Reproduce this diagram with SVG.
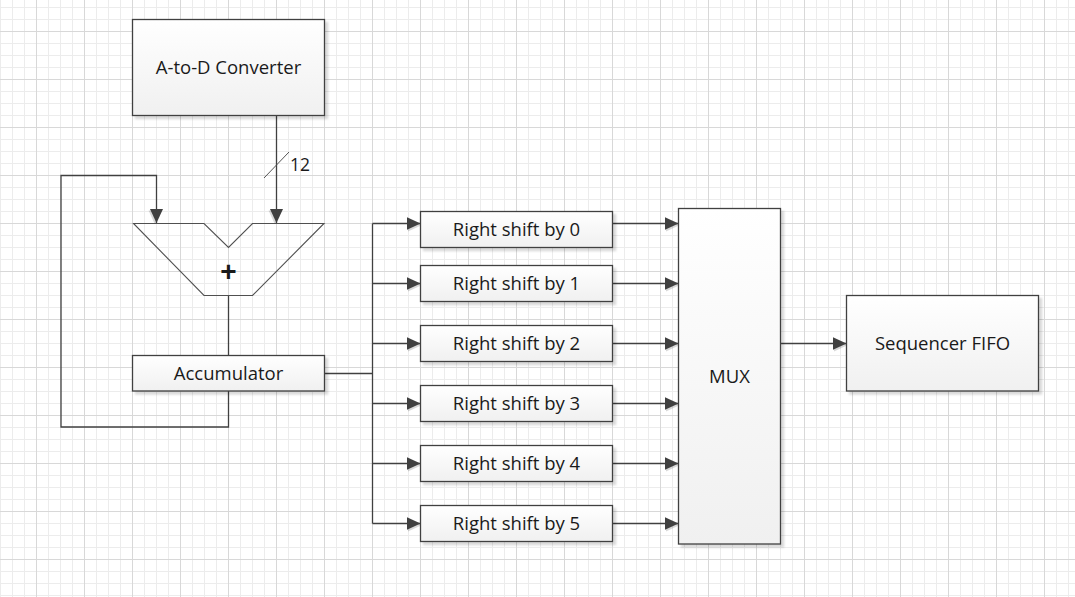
<svg xmlns="http://www.w3.org/2000/svg" width="1075" height="597" viewBox="0 0 1075 597">
  <defs>
    <pattern id="minor" patternUnits="userSpaceOnUse" x="0" y="7" width="12" height="12">
      <path d="M0.5,0 V12 M0,0.5 H12" stroke="#ececec" stroke-width="1" fill="none"/>
    </pattern>
    <pattern id="major" patternUnits="userSpaceOnUse" x="36" y="31" width="48" height="48">
      <path d="M0.5,0 V48 M0,0.5 H48" stroke="#d8d8d8" stroke-width="1" fill="none"/>
    </pattern>
    <linearGradient id="boxfill" x1="0" y1="0" x2="0" y2="1">
      <stop offset="0" stop-color="#ffffff"/>
      <stop offset="1" stop-color="#f0f0f0"/>
    </linearGradient>
    <filter id="shadow" x="-10%" y="-10%" width="130%" height="140%">
      <feDropShadow dx="3" dy="3" stdDeviation="1.2" flood-color="#000" flood-opacity="0.15"/>
    </filter>
    <marker id="arrow" markerUnits="userSpaceOnUse" markerWidth="16" markerHeight="16" refX="14" refY="6.5" orient="auto">
      <path d="M1.5,1.5 L15.5,8 L1.5,14.5 z" fill="#000" fill-opacity="0.15"/>
      <path d="M0,0 L14,6.5 L0,13 z" fill="#404040"/>
    </marker>
    <style>
      .box { fill: url(#boxfill); stroke: #404040; stroke-width: 1.3; filter: url(#shadow); }
      .lbl { font-family: "Open Sans", "Liberation Sans", sans-serif; font-size: 18.5px; fill: #1a1a1a; text-anchor: middle; }
      .wire { fill: none; stroke: #404040; stroke-width: 1.3; }
      .arr { fill: none; stroke: #404040; stroke-width: 1.3; marker-end: url(#arrow); }
    </style>
  </defs>

  <rect width="1075" height="597" fill="#ffffff"/>
  <rect width="1075" height="597" fill="url(#minor)"/>
  <rect width="1075" height="597" fill="url(#major)"/>

  <g id="connectors">
    <path class="arr" d="M276.5,115.5 V223"/>
    <path d="M264,178 L289,152" stroke="#555" stroke-width="1" fill="none"/>
    <path class="arr" d="M228.5,391 V427 H61 V175.5 H156.5 V223"/>
    <path class="wire" d="M228.5,295.5 V355.5"/>
    <path class="wire" d="M324.5,373.5 H372.5"/>
    <path class="wire" d="M372.5,223.5 V523.5"/>
    <path class="arr" d="M372.5,223.5 H420.5"/>
    <path class="arr" d="M372.5,283.5 H420.5"/>
    <path class="arr" d="M372.5,343.5 H420.5"/>
    <path class="arr" d="M372.5,403.5 H420.5"/>
    <path class="arr" d="M372.5,463.5 H420.5"/>
    <path class="arr" d="M372.5,523.5 H420.5"/>
    <path class="arr" d="M612.5,223.5 H678.5"/>
    <path class="arr" d="M612.5,283.5 H678.5"/>
    <path class="arr" d="M612.5,343.5 H678.5"/>
    <path class="arr" d="M612.5,403.5 H678.5"/>
    <path class="arr" d="M612.5,463.5 H678.5"/>
    <path class="arr" d="M612.5,523.5 H678.5"/>
    <path class="arr" d="M780.5,343.5 H846.5"/>
  </g>
  <text class="lbl" x="300" y="170.5" style="font-size:17.5px">12</text>

  <g id="adc">
    <rect class="box" x="132.5" y="19.5" width="192" height="96"/>
    <text class="lbl" x="228.5" y="74">A-to-D Converter</text>
  </g>

  <g id="adder">
    <polygon points="133.5,223.5 204,223.5 228.5,247.5 252.5,223.5 324,223.5 252.5,295.5 204,295.5" fill="none" stroke="#505050" stroke-width="1.1"/>
    <text x="228.5" y="281" font-family="Liberation Sans, Arial, sans-serif" font-size="28" font-weight="bold" fill="#1a1a1a" text-anchor="middle">+</text>
  </g>

  <g id="accumulator">
    <rect class="box" x="132.5" y="355.5" width="192" height="35.5"/>
    <text class="lbl" x="228.5" y="380">Accumulator</text>
  </g>

  <g id="shift0">
    <rect class="box" x="420.5" y="211.5" width="192" height="36"/>
    <text class="lbl" x="516.5" y="236">Right shift by 0</text>
  </g>
  <g id="shift1">
    <rect class="box" x="420.5" y="265.5" width="192" height="36"/>
    <text class="lbl" x="516.5" y="290">Right shift by 1</text>
  </g>
  <g id="shift2">
    <rect class="box" x="420.5" y="325.5" width="192" height="36"/>
    <text class="lbl" x="516.5" y="350">Right shift by 2</text>
  </g>
  <g id="shift3">
    <rect class="box" x="420.5" y="385.5" width="192" height="36"/>
    <text class="lbl" x="516.5" y="410">Right shift by 3</text>
  </g>
  <g id="shift4">
    <rect class="box" x="420.5" y="445.5" width="192" height="36"/>
    <text class="lbl" x="516.5" y="470">Right shift by 4</text>
  </g>
  <g id="shift5">
    <rect class="box" x="420.5" y="505.5" width="192" height="36"/>
    <text class="lbl" x="516.5" y="530">Right shift by 5</text>
  </g>

  <g id="mux">
    <rect class="box" x="678.5" y="208.5" width="102" height="335.5"/>
    <text class="lbl" x="729.5" y="383">MUX</text>
  </g>

  <g id="fifo">
    <rect class="box" x="846.5" y="295.5" width="192" height="95.5"/>
    <text class="lbl" x="942.5" y="350">Sequencer FIFO</text>
  </g>
</svg>
